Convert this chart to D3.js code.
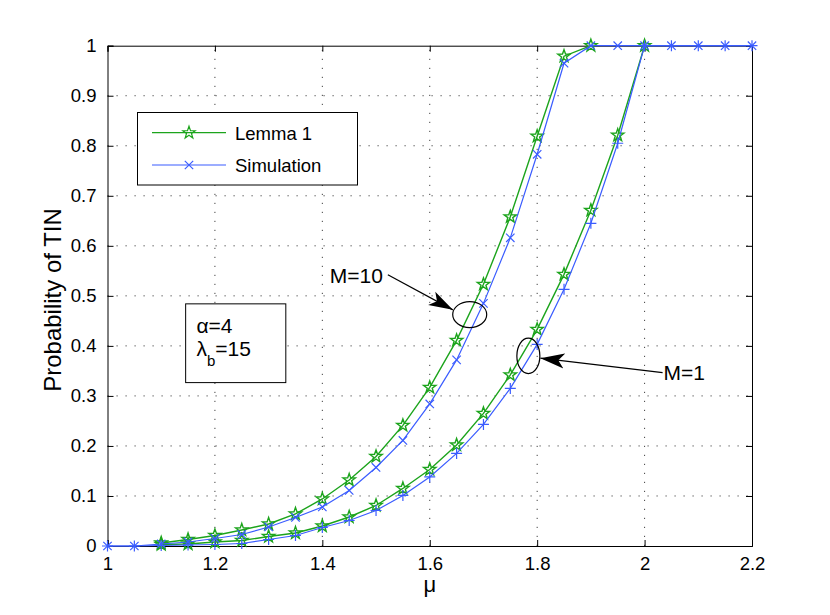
<!DOCTYPE html>
<html>
<head>
<meta charset="utf-8">
<script src="https://cdn.jsdelivr.net/npm/d3@7"></script>
<style>
  body { margin: 0; background: #fff; }
  svg { font-family: "Liberation Sans", Arial, Helvetica, sans-serif; }
  .grid line { stroke: #444; stroke-width: 1; stroke-dasharray: 1.2,7.8; }
</style>
</head>
<body>
<svg width="830" height="615"></svg>
<script>
const svg = d3.select("svg"),
    width = +svg.attr("width"),
    height = +svg.attr("height");

// ---------------------------------------------------------------
// data

const muSim = [1, 1.05, 1.1, 1.15, 1.2, 1.25, 1.3, 1.35, 1.4, 1.45, 1.5, 1.55, 1.6,
               1.65, 1.7, 1.75, 1.8, 1.85, 1.9, 1.95, 2, 2.05, 2.1, 2.15, 2.2];
const simM10 = [0, 0, 0.004, 0.008, 0.015, 0.023, 0.038, 0.057, 0.078, 0.111, 0.157, 0.211, 0.284,
                0.372, 0.485, 0.616, 0.783, 0.965, 1, 1, 1, 1, 1, 1, 1];
const simM1  = [0, 0, 0.001, 0.002, 0.003, 0.005, 0.013, 0.021, 0.037, 0.051, 0.071, 0.101, 0.138,
                0.185, 0.243, 0.315, 0.403, 0.513, 0.645, 0.805, 1, 1, 1, 1, 1];

const muLemmaM10 = [1.1, 1.15, 1.2, 1.25, 1.3, 1.35, 1.4, 1.45, 1.5, 1.55, 1.6, 1.65, 1.7, 1.75, 1.8, 1.85, 1.9];
const lemmaM10   = [0.006, 0.013, 0.021, 0.032, 0.044, 0.064, 0.094, 0.132, 0.179, 0.241, 0.317,
                    0.411, 0.523, 0.658, 0.819, 0.979, 1];
const muLemmaM1  = [1.1, 1.15, 1.2, 1.25, 1.3, 1.35, 1.4, 1.45, 1.5, 1.55, 1.6, 1.65, 1.7, 1.75,
                    1.8, 1.85, 1.9, 1.95, 2];
const lemmaM1    = [0.003, 0.004, 0.008, 0.011, 0.019, 0.026, 0.04, 0.058, 0.081, 0.115, 0.153,
                    0.202, 0.265, 0.342, 0.433, 0.543, 0.671, 0.821, 1];

const xTicks = [1, 1.2, 1.4, 1.6, 1.8, 2, 2.2];
const yTicks = [0, 0.1, 0.2, 0.3, 0.4, 0.5, 0.6, 0.7, 0.8, 0.9, 1];

const green = "#1ca41c", blue = "#3a5cff";

// ---------------------------------------------------------------
// frame

const margin = {left: 107.5, right: 78, top: 45.7, bottom: 69};
const x = d3.scaleLinear().domain([1, 2.2]).range([margin.left, width - margin.right]);
const y = d3.scaleLinear().domain([0, 1]).range([height - margin.bottom, margin.top]);
const [x0, x1] = x.range(), [y0, y1] = y.range();

// grid
const grid = svg.append("g").attr("class", "grid");
grid.selectAll(".gx").data(xTicks.slice(1, -1)).enter().append("line")
    .attr("x1", d => x(d)).attr("x2", d => x(d)).attr("y1", y0).attr("y2", y1);
grid.selectAll(".gy").data(yTicks.slice(1, -1)).enter().append("line")
    .attr("y1", d => y(d)).attr("y2", d => y(d)).attr("x1", x0).attr("x2", x1);

// axes with inward ticks, box on
const fmt = d => d3.format("")(+d.toFixed(1));
const tickLen = 6;
svg.append("g").attr("transform", `translate(0,${y0})`)
   .call(d3.axisBottom(x).tickValues(xTicks).tickSize(-tickLen).tickPadding(11).tickFormat(fmt));
svg.append("g").attr("transform", `translate(0,${y1})`)
   .call(d3.axisTop(x).tickValues(xTicks).tickSize(-tickLen).tickFormat(""));
svg.append("g").attr("transform", `translate(${x0},0)`)
   .call(d3.axisLeft(y).tickValues(yTicks).tickSize(-tickLen).tickPadding(11).tickFormat(fmt));
svg.append("g").attr("transform", `translate(${x1},0)`)
   .call(d3.axisRight(y).tickValues(yTicks).tickSize(-tickLen).tickFormat(""));

svg.selectAll(".domain").attr("stroke", "#000").attr("stroke-width", 1);
svg.selectAll(".tick line").attr("stroke", "#000");
svg.selectAll(".tick text").attr("font-size", 18.5).attr("fill", "#000")
   .attr("font-family", "Liberation Sans, Arial, sans-serif");

// axis labels
svg.append("text").attr("x", x(1.6)).attr("y", 592)
   .attr("text-anchor", "middle").attr("font-size", 22).text("μ");
svg.append("text")
   .attr("transform", `translate(61,300) rotate(-90)`)
   .attr("text-anchor", "middle").attr("font-size", 24).text("Probability of TIN");

// ---------------------------------------------------------------
// series

const line = d3.line().x(d => x(d[0])).y(d => y(d[1]));
const zipped = (xs, ys) => xs.map((v, i) => [v, ys[i]]);

const star = (r) => {
  let pts = [];
  for (let i = 0; i < 10; i++) {
    let rr = i % 2 ? r * 0.4 : r;
    let a = -Math.PI / 2 + i * Math.PI / 5;
    pts.push([rr * Math.cos(a), rr * Math.sin(a)]);
  }
  return "M" + pts.map(p => p.join(",")).join("L") + "Z";
};
const cross = (r) => `M${-r},${-r}L${r},${r}M${-r},${r}L${r},${-r}`;
const plus = (r) => `M${-r},0L${r},0M0,${-r}L0,${r}`;

function drawSeries(data, color, marker, sw) {
  let g = svg.append("g");
  g.append("path").datum(data).attr("d", line)
   .attr("fill", "none").attr("stroke", color).attr("stroke-width", sw);
  g.selectAll("path.m").data(data).enter().append("path").attr("class", "m")
   .attr("transform", d => `translate(${x(d[0])},${y(d[1])})`)
   .attr("d", marker)
   .attr("fill", "none").attr("stroke", color).attr("stroke-width", sw);
}

drawSeries(zipped(muLemmaM1, lemmaM1), green, star(6.5), 1.4);
drawSeries(zipped(muLemmaM10, lemmaM10), green, star(6.5), 1.4);
drawSeries(zipped(muSim, simM1), blue, plus(5.5), 1.2);
drawSeries(zipped(muSim, simM10), blue, cross(4.2), 1.2);

// ---------------------------------------------------------------
// legend

const leg = svg.append("g");
leg.append("rect").attr("x", 137.5).attr("y", 112.5).attr("width", 220).attr("height", 72.5)
   .attr("fill", "#fff").attr("stroke", "#000").attr("stroke-width", 1);
const legItems = [
  {label: "Lemma 1", color: green, marker: star(6.5), y: 132.7},
  {label: "Simulation", color: blue, marker: cross(4.2), y: 165}
];
legItems.forEach(it => {
  leg.append("line").attr("x1", 152).attr("x2", 226).attr("y1", it.y).attr("y2", it.y)
     .attr("stroke", it.color).attr("stroke-width", 1.2);
  leg.append("path").attr("d", it.marker).attr("transform", `translate(189,${it.y})`)
     .attr("fill", "none").attr("stroke", it.color).attr("stroke-width", 1.2);
  leg.append("text").attr("x", 235).attr("y", it.y + 7).attr("font-size", 18.5).text(it.label);
});

// parameter box
const pb = svg.append("g");
pb.append("rect").attr("x", x(1.1455)).attr("y", y(0.484))
   .attr("width", x(1.332) - x(1.1455)).attr("height", y(0.3266) - y(0.484))
   .attr("fill", "#fff").attr("stroke", "#000");
pb.append("text").attr("x", x(1.1655)).attr("y", 333).attr("font-size", 21).text("α=4");
const lam = pb.append("text").attr("x", x(1.1655)).attr("y", 356).attr("font-size", 21);
lam.append("tspan").text("λ");
lam.append("tspan").attr("font-size", 15).attr("dy", 10).text("b");
lam.append("tspan").attr("dy", -10).text("=15");

// ---------------------------------------------------------------
// annotations

svg.append("defs").append("marker")
   .attr("id", "head").attr("viewBox", "0 -8 24 16")
   .attr("refX", 24).attr("refY", 0)
   .attr("markerWidth", 24).attr("markerHeight", 16)
   .attr("markerUnits", "userSpaceOnUse").attr("orient", "auto")
   .append("path").attr("d", "M0,-7.5L24,0L0,7.5L6,0Z").attr("fill", "#000");

const notes = [
  {label: "M=10", tx: 1.414, ty: 0.526, from: [1.522, 0.542], to: [1.643, 0.472],
   ell: [1.6744, 0.4626], rx: 17, ry: 13},
  {label: "M=1", tx: 2.0353, ty: 0.332, from: [2.0335, 0.3466], to: [1.806, 0.3754],
   ell: [1.7836, 0.38], rx: 11.5, ry: 17.7}
];
notes.forEach(n => {
  svg.append("ellipse").attr("cx", x(n.ell[0])).attr("cy", y(n.ell[1]))
     .attr("rx", n.rx).attr("ry", n.ry)
     .attr("fill", "none").attr("stroke", "#000").attr("stroke-width", 1.2);
  svg.append("line").attr("x1", x(n.from[0])).attr("y1", y(n.from[1]))
     .attr("x2", x(n.to[0])).attr("y2", y(n.to[1]))
     .attr("stroke", "#000").attr("stroke-width", 1.2).attr("marker-end", "url(#head)");
  svg.append("text").attr("x", x(n.tx)).attr("y", y(n.ty)).attr("font-size", 21).text(n.label);
});
</script>
</body>
</html>
